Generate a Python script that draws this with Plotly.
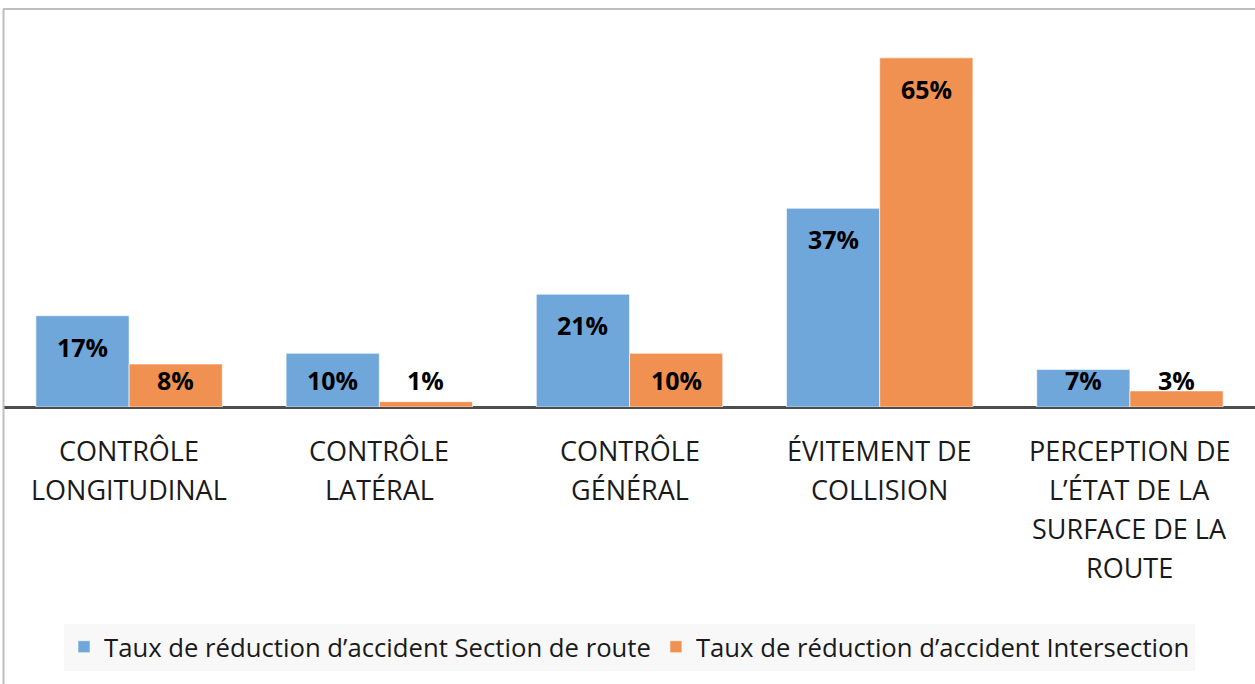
import plotly.graph_objects as go

categories = [
    "CONTRÔLE<br>LONGITUDINAL",
    "CONTRÔLE<br>LATÉRAL",
    "CONTRÔLE<br>GÉNÉRAL",
    "ÉVITEMENT DE<br>COLLISION",
    "PERCEPTION DE<br>L’ÉTAT DE LA<br>SURFACE DE LA<br>ROUTE",
]
series_names = [
    "Taux de réduction d’accident Section de route",
    "Taux de réduction d’accident Intersection",
]
section_route = [17, 10, 21, 37, 7]
intersection = [8, 1, 10, 65, 3]

colors = ["#70A7DB", "#F09152"]

W, H = 1255, 684
ML, MR, MT, MB = 4, 0, 31, 277
YMAX = 70
plot_h = H - MT - MB
ppu = plot_h / YMAX  # pixels per unit

fig = go.Figure()
for name, vals, col in zip(series_names, [section_route, intersection], colors):
    fig.add_trace(go.Bar(
        x=categories, y=vals, name=name,
        marker=dict(color=col, line=dict(color="rgba(255,255,255,0.6)", width=1)),
        hoverinfo="x+y",
    ))

annotations = []
# data labels
group_px = (W - ML - MR) / len(categories)
bar_off = group_px * 0.745 / 4
for si, vals in enumerate([section_route, intersection]):
    shift = -bar_off if si == 0 else bar_off
    for cat, v in zip(categories, vals):
        y_lab = max(v - 31 / ppu, 27 / ppu)
        annotations.append(dict(
            x=cat, y=y_lab, xref="x", yref="y", text=f"{v}%", showarrow=False,
            xshift=shift, yanchor="middle", xanchor="center",
            font=dict(family="Open Sans", size=25, color="#000000", weight="bold"),
        ))

# category labels with wide line spacing
for cat in categories:
    for li, line in enumerate(cat.split("<br>")):
        annotations.append(dict(
            x=cat, y=0, xref="x", yref="paper", text=line, showarrow=False,
            yshift=-(43 + 39 * li), yanchor="middle", xanchor="center",
            font=dict(family="Open Sans", size=27, color="#1a1a1a"),
        ))

fig.update_layout(
    width=W, height=H,
    margin=dict(l=ML, r=MR, t=MT, b=MB),
    paper_bgcolor="white", plot_bgcolor="white",
    barmode="group", bargap=0.255, bargroupgap=0.0,
    xaxis=dict(showticklabels=False, showgrid=False, zeroline=False,
               showline=False, ticks=""),
    yaxis=dict(range=[0, YMAX], showticklabels=False, showgrid=False,
               zeroline=True, zerolinecolor="#4d4d4d", zerolinewidth=3,
               showline=False, ticks=""),
    showlegend=True,
    legend=dict(orientation="h", x=0.5, xanchor="center",
                y=(-(647 - (H - MB)) / plot_h), yanchor="middle",
                bgcolor="#F8F8F8",
                font=dict(family="Open Sans", size=25.7, color="#1a1a1a"),
                itemwidth=30, tracegroupgap=0),
    annotations=annotations,
)

# outer border (top and left visible)
fx = lambda px: (px - ML) / (W - ML - MR)
fy = lambda py: (H - MB - py) / plot_h
fig.add_shape(type="line", xref="paper", yref="paper",
              x0=fx(3), x1=fx(W + 5), y0=fy(9), y1=fy(9),
              line=dict(color="#BFBFBF", width=2))
fig.add_shape(type="line", xref="paper", yref="paper",
              x0=fx(3.5), x1=fx(3.5), y0=fy(9), y1=fy(H + 5),
              line=dict(color="#BFBFBF", width=2))

fig.write_html(
    "out.html",
    config={"displayModeBar": False},
    post_script="document.body.style.margin='0';document.body.style.overflow='hidden';",
)
